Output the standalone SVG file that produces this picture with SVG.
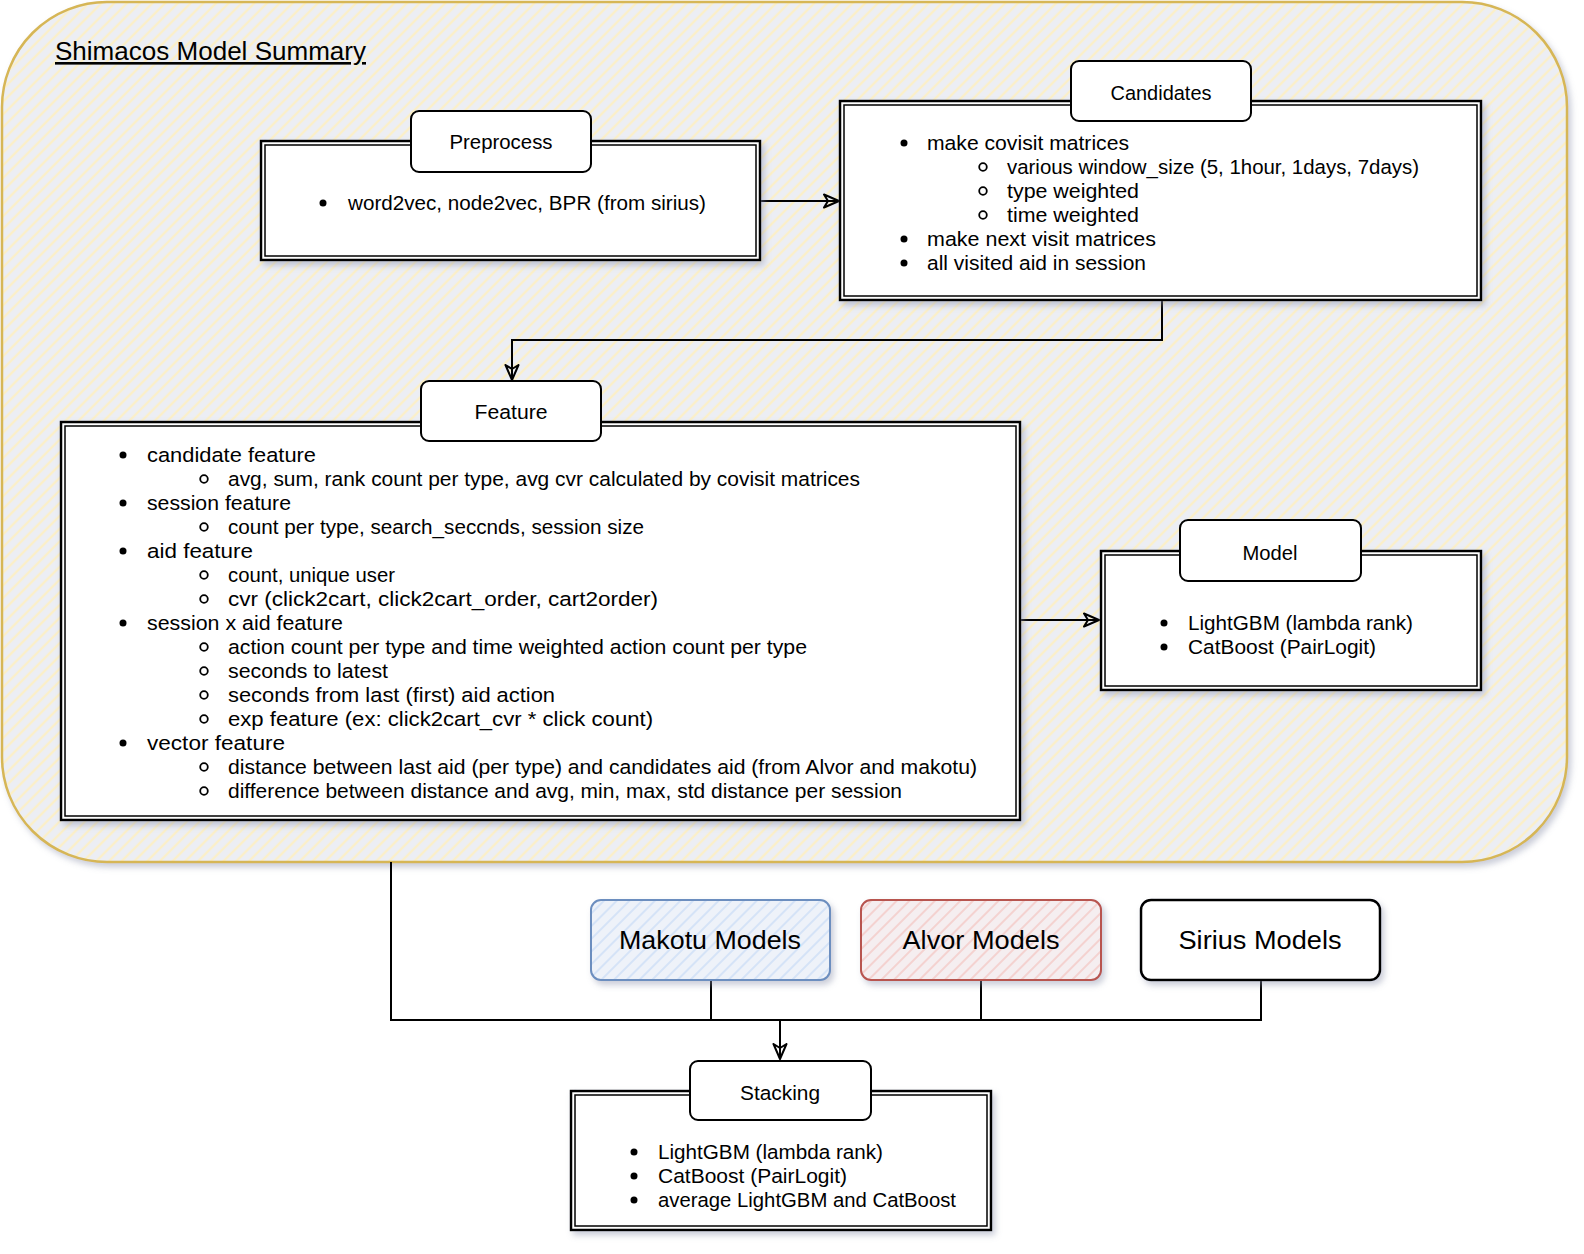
<svg xmlns="http://www.w3.org/2000/svg" width="1584" height="1254" viewBox="0 0 1584 1254">
<defs>
<pattern id="hatchY" patternUnits="userSpaceOnUse" width="9" height="9" patternTransform="rotate(45)">
<rect width="9" height="9" fill="#eceef4"/>
<line x1="2" y1="0" x2="2" y2="9" stroke="#fbefc8" stroke-width="2.4"/>
</pattern>
<pattern id="hatchB" patternUnits="userSpaceOnUse" width="9" height="9" patternTransform="rotate(45)">
<rect width="9" height="9" fill="#eef2f9"/>
<line x1="2" y1="0" x2="2" y2="9" stroke="#d3e2f7" stroke-width="1.8"/>
</pattern>
<pattern id="hatchR" patternUnits="userSpaceOnUse" width="9" height="9" patternTransform="rotate(45)">
<rect width="9" height="9" fill="#f5eef0"/>
<line x1="2" y1="0" x2="2" y2="9" stroke="#f4cfcd" stroke-width="1.8"/>
</pattern>
<filter id="shadow" x="-10%" y="-10%" width="120%" height="130%">
<feDropShadow dx="3" dy="4" stdDeviation="3" flood-color="#8a90aa" flood-opacity="0.45"/>
</filter>
<marker id="openArrow" markerWidth="18" markerHeight="16" refX="16" refY="8" orient="auto" markerUnits="userSpaceOnUse">
<path d="M1,1.5 L16,8 L1,14.5 L5,8 Z" fill="none" stroke="#000" stroke-width="2" stroke-linejoin="round"/>
</marker>
</defs>
<style>
text { font-family: "Liberation Sans", Arial, sans-serif; fill: #000; }
.body { font-size: 20.5px; }
.tabl { font-size: 20.5px; text-anchor: middle; }
.big { font-size: 26px; text-anchor: middle; }
.outer { fill: #fff; stroke: #000; stroke-width: 2.5; }
.inner { fill: none; stroke: #000; stroke-width: 1.5; }
.tab { fill: #fff; stroke: #000; stroke-width: 2; }
.dot { fill: #000; }
.ring { fill: none; stroke: #000; stroke-width: 1.8; }
.conn { fill: none; stroke: #000; stroke-width: 2; }
</style>

<g id="container">
<rect x="2" y="2" width="1565" height="860" rx="105" ry="105" fill="url(#hatchY)" stroke="#d6b656" stroke-width="2.5" filter="url(#shadow)"/>
<text x="55" y="60" style="font-size:26px" text-decoration="underline" textLength="311" lengthAdjust="spacingAndGlyphs">Shimacos Model Summary</text>
</g>

<g id="connectors">
<line class="conn" x1="760" y1="201" x2="839" y2="201" marker-end="url(#openArrow)"/>
<polyline class="conn" points="1162,300 1162,340 512,340 512,380" marker-end="url(#openArrow)"/>
<line class="conn" x1="1020" y1="620" x2="1099" y2="620" marker-end="url(#openArrow)"/>
<polyline class="conn" points="391,862 391,1020 1261,1020 1261,980"/>
<line class="conn" x1="711" y1="980" x2="711" y2="1020"/>
<line class="conn" x1="981" y1="980" x2="981" y2="1020"/>
<line class="conn" x1="780" y1="1020" x2="780" y2="1059" marker-end="url(#openArrow)"/>
</g>

<g id="preprocess">
<rect class="outer" x="261" y="141" width="499" height="119" filter="url(#shadow)"/>
<rect class="inner" x="265" y="145" width="491" height="111"/>
<rect class="tab" x="411" y="111" width="180" height="61" rx="8"/>
<text class="tabl" x="501" y="149" textLength="103" lengthAdjust="spacingAndGlyphs">Preprocess</text>
<circle class="dot" cx="323" cy="203" r="3.5"/>
<text class="body" x="348" y="210" textLength="358" lengthAdjust="spacingAndGlyphs">word2vec, node2vec, BPR (from sirius)</text>
</g>

<g id="candidates">
<rect class="outer" x="840" y="101" width="641" height="199" filter="url(#shadow)"/>
<rect class="inner" x="844" y="105" width="633" height="191"/>
<rect class="tab" x="1071" y="61" width="180" height="60" rx="8"/>
<text class="tabl" x="1161" y="100" textLength="101" lengthAdjust="spacingAndGlyphs">Candidates</text>
<circle class="dot" cx="904" cy="143" r="3.5"/>
<text class="body" x="927" y="150" textLength="202" lengthAdjust="spacingAndGlyphs">make covisit matrices</text>
<circle class="ring" cx="983" cy="167" r="3.8"/>
<text class="body" x="1007" y="174" textLength="412" lengthAdjust="spacingAndGlyphs">various window_size (5, 1hour, 1days, 7days)</text>
<circle class="ring" cx="983" cy="191" r="3.8"/>
<text class="body" x="1007" y="198" textLength="132" lengthAdjust="spacingAndGlyphs">type weighted</text>
<circle class="ring" cx="983" cy="215" r="3.8"/>
<text class="body" x="1007" y="222" textLength="132" lengthAdjust="spacingAndGlyphs">time weighted</text>
<circle class="dot" cx="904" cy="239" r="3.5"/>
<text class="body" x="927" y="246" textLength="229" lengthAdjust="spacingAndGlyphs">make next visit matrices</text>
<circle class="dot" cx="904" cy="263" r="3.5"/>
<text class="body" x="927" y="270" textLength="219" lengthAdjust="spacingAndGlyphs">all visited aid in session</text>
</g>

<g id="feature">
<rect class="outer" x="61" y="422" width="959" height="398" filter="url(#shadow)"/>
<rect class="inner" x="65" y="426" width="951" height="390"/>
<rect class="tab" x="421" y="381" width="180" height="60" rx="8"/>
<text class="tabl" x="511" y="419" textLength="73" lengthAdjust="spacingAndGlyphs">Feature</text>
<circle class="dot" cx="123" cy="455" r="3.5"/>
<text class="body" x="147" y="462" textLength="169" lengthAdjust="spacingAndGlyphs">candidate feature</text>
<circle class="ring" cx="204" cy="479" r="3.8"/>
<text class="body" x="228" y="486" textLength="632" lengthAdjust="spacingAndGlyphs">avg, sum, rank count per type, avg cvr calculated by covisit matrices</text>
<circle class="dot" cx="123" cy="503" r="3.5"/>
<text class="body" x="147" y="510" textLength="144" lengthAdjust="spacingAndGlyphs">session feature</text>
<circle class="ring" cx="204" cy="527" r="3.8"/>
<text class="body" x="228" y="534" textLength="416" lengthAdjust="spacingAndGlyphs">count per type, search_seccnds, session size</text>
<circle class="dot" cx="123" cy="551" r="3.5"/>
<text class="body" x="147" y="558" textLength="106" lengthAdjust="spacingAndGlyphs">aid feature</text>
<circle class="ring" cx="204" cy="575" r="3.8"/>
<text class="body" x="228" y="582" textLength="167" lengthAdjust="spacingAndGlyphs">count, unique user</text>
<circle class="ring" cx="204" cy="599" r="3.8"/>
<text class="body" x="228" y="606" textLength="430" lengthAdjust="spacingAndGlyphs">cvr (click2cart, click2cart_order, cart2order)</text>
<circle class="dot" cx="123" cy="623" r="3.5"/>
<text class="body" x="147" y="630" textLength="196" lengthAdjust="spacingAndGlyphs">session x aid feature</text>
<circle class="ring" cx="204" cy="647" r="3.8"/>
<text class="body" x="228" y="654" textLength="579" lengthAdjust="spacingAndGlyphs">action count per type and time weighted action count per type</text>
<circle class="ring" cx="204" cy="671" r="3.8"/>
<text class="body" x="228" y="678" textLength="160" lengthAdjust="spacingAndGlyphs">seconds to latest</text>
<circle class="ring" cx="204" cy="695" r="3.8"/>
<text class="body" x="228" y="702" textLength="327" lengthAdjust="spacingAndGlyphs">seconds from last (first) aid action</text>
<circle class="ring" cx="204" cy="719" r="3.8"/>
<text class="body" x="228" y="726" textLength="425" lengthAdjust="spacingAndGlyphs">exp feature (ex: click2cart_cvr * click count)</text>
<circle class="dot" cx="123" cy="743" r="3.5"/>
<text class="body" x="147" y="750" textLength="138" lengthAdjust="spacingAndGlyphs">vector feature</text>
<circle class="ring" cx="204" cy="767" r="3.8"/>
<text class="body" x="228" y="774" textLength="749" lengthAdjust="spacingAndGlyphs">distance between last aid (per type) and candidates aid (from Alvor and makotu)</text>
<circle class="ring" cx="204" cy="791" r="3.8"/>
<text class="body" x="228" y="798" textLength="674" lengthAdjust="spacingAndGlyphs">difference between distance and avg, min, max, std distance per session</text>
</g>

<g id="model">
<rect class="outer" x="1101" y="551" width="380" height="139" filter="url(#shadow)"/>
<rect class="inner" x="1105" y="555" width="372" height="131"/>
<rect class="tab" x="1180" y="520" width="181" height="61" rx="8"/>
<text class="tabl" x="1270" y="560" textLength="55" lengthAdjust="spacingAndGlyphs">Model</text>
<circle class="dot" cx="1164" cy="623" r="3.5"/>
<text class="body" x="1188" y="630" textLength="225" lengthAdjust="spacingAndGlyphs">LightGBM (lambda rank)</text>
<circle class="dot" cx="1164" cy="647" r="3.5"/>
<text class="body" x="1188" y="654" textLength="188" lengthAdjust="spacingAndGlyphs">CatBoost (PairLogit)</text>
</g>

<g id="makotu">
<rect x="591" y="900" width="239" height="80" rx="10" fill="url(#hatchB)" stroke="#6c8ebf" stroke-width="2" filter="url(#shadow)"/>
<text class="big" x="710" y="949" textLength="182" lengthAdjust="spacingAndGlyphs">Makotu Models</text>
</g>

<g id="alvor">
<rect x="861" y="900" width="240" height="80" rx="10" fill="url(#hatchR)" stroke="#b85450" stroke-width="2" filter="url(#shadow)"/>
<text class="big" x="981" y="949" textLength="157" lengthAdjust="spacingAndGlyphs">Alvor Models</text>
</g>

<g id="sirius">
<rect x="1141" y="900" width="239" height="80" rx="10" fill="#fff" stroke="#000" stroke-width="2.5" filter="url(#shadow)"/>
<text class="big" x="1260" y="949" textLength="163" lengthAdjust="spacingAndGlyphs">Sirius Models</text>
</g>

<g id="stacking">
<rect class="outer" x="571" y="1091" width="420" height="139" filter="url(#shadow)"/>
<rect class="inner" x="575" y="1095" width="412" height="131"/>
<rect class="tab" x="690" y="1061" width="181" height="59" rx="8"/>
<text class="tabl" x="780" y="1100" textLength="80" lengthAdjust="spacingAndGlyphs">Stacking</text>
<circle class="dot" cx="634" cy="1152" r="3.5"/>
<text class="body" x="658" y="1159" textLength="225" lengthAdjust="spacingAndGlyphs">LightGBM (lambda rank)</text>
<circle class="dot" cx="634" cy="1176" r="3.5"/>
<text class="body" x="658" y="1183" textLength="189" lengthAdjust="spacingAndGlyphs">CatBoost (PairLogit)</text>
<circle class="dot" cx="634" cy="1200" r="3.5"/>
<text class="body" x="658" y="1207" textLength="298" lengthAdjust="spacingAndGlyphs">average LightGBM and CatBoost</text>
</g>
</svg>
